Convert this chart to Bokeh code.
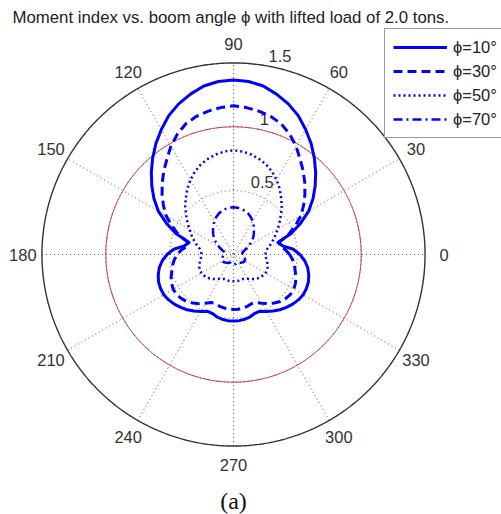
import numpy as np
from bokeh.plotting import figure
from bokeh.models import Range1d, Label, Legend, LegendItem
from bokeh.core.properties import value
from bokeh.embed import file_html
from bokeh.resources import INLINE

# Boom angle samples (degrees) shared by every series
theta_deg = list(range(0, 361, 5))

# Moment index for each boom-angle setting, one value per sample angle
r_phi10 = [0.52, 0.47, 0.39, 0.36, 0.48, 0.58, 0.68, 0.76, 0.835, 0.91, 0.985, 1.06, 1.13, 1.20, 1.255, 1.30, 1.34, 1.36,
           1.367, 1.36, 1.34, 1.30, 1.255, 1.20, 1.13, 1.06, 0.985, 0.91, 0.835, 0.76, 0.68, 0.58, 0.48, 0.36, 0.39, 0.47,
           0.52, 0.56, 0.59, 0.61, 0.625, 0.63, 0.63, 0.62, 0.605, 0.585, 0.565, 0.54, 0.515, 0.49, 0.49, 0.505, 0.515, 0.52,
           0.52, 0.52, 0.515, 0.505, 0.49, 0.49, 0.515, 0.54, 0.565, 0.585, 0.605, 0.62, 0.63, 0.63, 0.625, 0.61, 0.59, 0.56, 0.52]
r_phi30 = [0.44, 0.41, 0.37, 0.37, 0.46, 0.535, 0.61, 0.67, 0.73, 0.79, 0.85, 0.91, 0.98, 1.04, 1.09, 1.12, 1.14, 1.155,
           1.165, 1.155, 1.14, 1.12, 1.09, 1.04, 0.98, 0.91, 0.85, 0.79, 0.73, 0.67, 0.61, 0.535, 0.46, 0.37, 0.37, 0.41,
           0.44, 0.465, 0.485, 0.50, 0.52, 0.535, 0.545, 0.545, 0.535, 0.52, 0.495, 0.47, 0.44, 0.415, 0.41, 0.42, 0.425, 0.43,
           0.43, 0.43, 0.425, 0.42, 0.41, 0.415, 0.44, 0.47, 0.495, 0.52, 0.535, 0.545, 0.545, 0.535, 0.52, 0.50, 0.485, 0.465, 0.44]
r_phi50 = [0.25, 0.255, 0.27, 0.30, 0.33, 0.365, 0.40, 0.44, 0.485, 0.535, 0.58, 0.63, 0.675, 0.715, 0.75, 0.775, 0.795, 0.81,
           0.815, 0.81, 0.795, 0.775, 0.75, 0.715, 0.675, 0.63, 0.58, 0.535, 0.485, 0.44, 0.40, 0.365, 0.33, 0.30, 0.27, 0.255,
           0.25, 0.255, 0.265, 0.275, 0.285, 0.29, 0.29, 0.285, 0.275, 0.265, 0.25, 0.235, 0.22, 0.21, 0.205, 0.205, 0.21, 0.21,
           0.21, 0.21, 0.21, 0.205, 0.205, 0.21, 0.22, 0.235, 0.25, 0.265, 0.275, 0.285, 0.29, 0.29, 0.285, 0.275, 0.265, 0.255, 0.25]
r_phi70 = [0.075, 0.07, 0.07, 0.075, 0.09, 0.115, 0.14, 0.17, 0.20, 0.225, 0.25, 0.275, 0.30, 0.322, 0.34, 0.353, 0.362, 0.368,
           0.37, 0.368, 0.362, 0.353, 0.34, 0.322, 0.30, 0.275, 0.25, 0.225, 0.20, 0.17, 0.14, 0.115, 0.09, 0.075, 0.07, 0.07,
           0.075, 0.08, 0.085, 0.09, 0.095, 0.10, 0.10, 0.10, 0.095, 0.09, 0.085, 0.08, 0.075, 0.07, 0.07, 0.075, 0.075, 0.08,
           0.08, 0.08, 0.075, 0.075, 0.07, 0.07, 0.075, 0.08, 0.085, 0.09, 0.095, 0.10, 0.10, 0.10, 0.095, 0.09, 0.085, 0.08, 0.075]

series_labels = ["\u03d5=10\u00b0", "\u03d5=30\u00b0", "\u03d5=50\u00b0", "\u03d5=70\u00b0"]

# Polar grid: ring values, spoke angles and their tick labels
ring_values = [0.5, 1.0, 1.5]
ring_labels = ["0.5", "1", "1.5"]
spoke_deg = [0, 30, 60, 90, 120, 150, 180, 210, 240, 270, 300, 330]
spoke_labels = [str(a) for a in spoke_deg]
reference_ring = 1.0

# Canvas layout
W, H = 501, 514
CX, CY = 233, 254          # pixel position of the pole
SCALE = 127.7              # pixels per unit of radius
R_MAX = max(ring_values)
FONT = "Liberation Sans"
FS = "16.5px"

p = figure(width=W, height=H, output_backend="svg", toolbar_location=None,
           x_range=Range1d(-CX / SCALE, (W - CX) / SCALE),
           y_range=Range1d(-(H - CY) / SCALE, CY / SCALE),
           x_axis_location=None, y_axis_location=None,
           min_border=0, min_border_left=0, min_border_right=0,
           min_border_top=0, min_border_bottom=0)
p.grid.visible = False
p.outline_line_color = None
p.background_fill_color = "white"
p.border_fill_color = "white"

ang = np.linspace(0, 2 * np.pi, 721)

# Spokes across the whole disc
for a in spoke_deg[:6]:
    t = np.deg2rad(a)
    p.line([-R_MAX * np.cos(t), R_MAX * np.cos(t)], [-R_MAX * np.sin(t), R_MAX * np.sin(t)],
           line_color="#555555", line_width=1, line_dash="1 3")

# Inner dotted rings and solid outer ring
for rv in ring_values[:-1]:
    p.line(rv * np.cos(ang), rv * np.sin(ang), line_color="#555555", line_width=1, line_dash="1 3")
p.line(R_MAX * np.cos(ang), R_MAX * np.sin(ang), line_color="#333333", line_width=1.4)

# Reference ring
p.line(reference_ring * np.cos(ang), reference_ring * np.sin(ang), line_color="#c8323c", line_width=1)

# Ring labels near 82 degrees
t82 = np.deg2rad(82)
p.text(x=[(rv + 0.025) * np.cos(t82) for rv in ring_values],
       y=[(rv + 0.025) * np.sin(t82) for rv in ring_values],
       text=ring_labels, x_offset=8, text_align="left", text_baseline="bottom",
       text_font=value(FONT), text_font_size=FS, text_color="#333333")

# Angle labels outside the outer ring
lab_r = 1.1 * R_MAX
p.text(x=[lab_r * np.cos(np.deg2rad(a)) for a in spoke_deg],
       y=[lab_r * np.sin(np.deg2rad(a)) for a in spoke_deg],
       text=spoke_labels, text_align="center", text_baseline="middle",
       text_font=value(FONT), text_font_size=FS, text_color="#333333")

# Data curves
th = np.deg2rad(np.array(theta_deg, dtype=float))
styles = [("solid", 3), ("9 5", 3), ("2 3", 2.5), ("9 4 2 4", 2.5)]
renderers = []
for rv, (dash, lw) in zip([r_phi10, r_phi30, r_phi50, r_phi70], styles):
    rr = np.array(rv)
    renderers.append(p.line(rr * np.cos(th), rr * np.sin(th), line_color="#0000ff",
                            line_width=lw, line_dash=dash, line_join="round"))

legend = Legend(items=[LegendItem(label=lbl, renderers=[r]) for lbl, r in zip(series_labels, renderers)],
                location=(384, H - 138), orientation="vertical",
                glyph_width=54, glyph_height=20, label_height=20, spacing=4, padding=8,
                label_standoff=6, margin=0,
                label_text_font=FONT, label_text_font_size=FS, label_text_color="#222222",
                border_line_color="#333333", border_line_width=1.5,
                background_fill_color="white", background_fill_alpha=1.0)
p.add_layout(legend, "center")

p.add_layout(Label(x=12, y=H - 7, x_units="screen", y_units="screen",
                   text="Moment index vs. boom angle \u03d5 with lifted load of 2.0 tons.",
                   text_font=FONT, text_font_size="16.8px", text_color="#222222",
                   text_baseline="top", text_align="left"))

p.add_layout(Label(x=CX, y=H - 500, x_units="screen", y_units="screen", text="(a)",
                   text_font="Liberation Serif", text_font_size="24px", text_color="#111111",
                   text_baseline="middle", text_align="center"))

open("out.html", "w").write(file_html(p, INLINE))
